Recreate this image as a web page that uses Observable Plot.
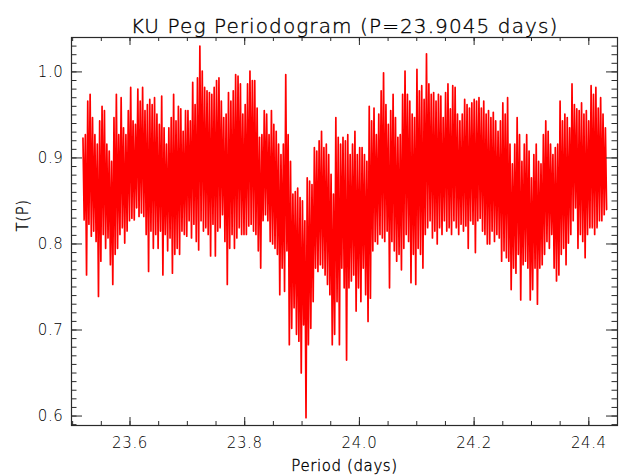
<!DOCTYPE html>
<html><head><meta charset="utf-8">
<script src="https://cdn.jsdelivr.net/npm/d3@7"></script>
<script src="https://cdn.jsdelivr.net/npm/@observablehq/plot@0.6"></script>
<style>
html,body{margin:0;padding:0;background:#fff;}
#chart svg{display:block;}
#chart text{letter-spacing:0.6px;}
#chart .ttl text{letter-spacing:1.1px;}
</style></head><body><div id="chart"></div>
<script>
const titleText = "KU Peg Periodogram (P=23.9045 days)";
const xLabel = "Period (days)";
const yLabel = "T(P)";
const periodFirst = 23.518;
const periodLast = 24.431;
const xDomain = [23.498, 24.45];
const yDomain = [0.589, 1.040];
const xTicks = [23.6, 23.8, 24.0, 24.2, 24.4];
const yTicks = [0.6, 0.7, 0.8, 0.9, 1.0];

// T(P), alternating upper / lower excursions
const tA = [0.923,0.828, 0.927,0.764, 0.966,0.823, 0.974,0.809, 0.947,0.815, 0.927,0.803, 0.916,0.739, 0.943,0.780, 0.960,0.811, 0.955,0.795, 0.916,0.807, 0.908,0.776, 0.896,0.753, 0.947,0.788, 0.974,0.795, 0.927,0.811, 0.970,0.819, 0.935,0.801, 0.927,0.815, 0.955,0.827, 0.982,0.830, 0.943,0.828, 0.939,0.842, 0.980,0.832, 0.966,0.836, 0.982,0.832, 0.955,0.811, 0.962,0.768, 0.968,0.815, 0.962,0.795, 0.970,0.811, 0.951,0.795, 0.939,0.815, 0.972,0.764, 0.935,0.811, 0.916,0.792, 0.935,0.807, 0.947,0.766, 0.974,0.788, 0.943,0.795];
const tB = [0.960,0.788, 0.957,0.815, 0.931,0.811, 0.955,0.809, 0.955,0.827, 0.943,0.807, 0.988,0.823, 0.962,0.803, 0.993,0.793, 1.030,0.827, 1.001,0.815, 0.982,0.819, 0.978,0.811, 0.976,0.786, 0.974,0.823, 0.982,0.786, 0.990,0.815, 0.993,0.819, 0.966,0.834, 0.947,0.803, 0.951,0.753, 0.976,0.795, 0.966,0.811, 0.978,0.795, 0.997,0.807, 0.995,0.819, 0.986,0.811, 0.951,0.811, 0.962,0.811, 0.986,0.821, 1.001,0.823, 0.990,0.815, 0.990,0.811, 0.958,0.792, 0.924,0.772, 0.927,0.827, 0.955,0.834, 0.951,0.827, 0.927,0.803, 0.955,0.800, 0.939,0.795, 0.931,0.788, 0.916,0.741, 0.904,0.772, 0.916,0.745, 0.997,0.792];
const tC = [0.927,0.683, 0.896,0.702, 0.858,0.726, 0.861,0.695, 0.865,0.687, 0.854,0.650, 0.850,0.706, 0.827,0.598, 0.877,0.683, 0.873,0.702, 0.869,0.733, 0.912,0.772, 0.908,0.768, 0.920,0.776, 0.931,0.772, 0.912,0.764, 0.916,0.753, 0.904,0.741, 0.881,0.683, 0.858,0.695, 0.947,0.733, 0.924,0.683, 0.916,0.772, 0.924,0.749, 0.920,0.665, 0.927,0.749, 0.904,0.757, 0.916,0.764, 0.931,0.722, 0.904,0.749, 0.912,0.733, 0.912,0.772, 0.904,0.741, 0.896,0.710, 0.960,0.737, 0.943,0.792, 0.958,0.803, 0.927,0.800, 0.951,0.811, 0.978,0.807, 0.999,0.803, 0.962,0.815, 0.939,0.749, 0.955,0.803, 0.974,0.792, 0.947,0.780];
const tD = [0.924,0.788, 0.927,0.770, 0.974,0.795, 1.001,0.811, 0.974,0.803, 0.966,0.755, 0.951,0.788, 0.947,0.753, 1.003,0.795, 0.978,0.788, 0.984,0.772, 0.968,0.811, 1.021,0.819, 0.986,0.827, 0.974,0.807, 0.976,0.815, 0.966,0.800, 0.974,0.819, 0.972,0.811, 0.947,0.827, 0.976,0.815, 0.986,0.819, 0.957,0.811, 0.984,0.827, 0.982,0.819, 0.951,0.811, 0.943,0.823, 0.951,0.815, 0.968,0.821, 0.962,0.795, 0.958,0.827, 0.964,0.823, 0.968,0.790, 0.966,0.827, 0.970,0.830, 0.958,0.815, 0.966,0.811, 0.951,0.800, 0.955,0.800, 0.947,0.815, 0.953,0.803, 0.943,0.811, 0.931,0.807, 0.943,0.780, 0.964,0.792, 0.951,0.784];
const tE = [0.970,0.780, 0.916,0.747, 0.893,0.772, 0.916,0.766, 0.947,0.788, 0.927,0.735, 0.896,0.776, 0.916,0.780, 0.927,0.772, 0.908,0.735, 0.877,0.747, 0.904,0.772, 0.916,0.730, 0.896,0.772, 0.893,0.776, 0.927,0.788, 0.943,0.803, 0.931,0.795, 0.916,0.811, 0.904,0.772, 0.912,0.757, 0.916,0.764, 0.966,0.788, 0.943,0.795, 0.951,0.776, 0.947,0.801, 0.935,0.811, 0.986,0.827, 0.962,0.842, 0.957,0.795, 0.955,0.811, 0.964,0.803, 0.951,0.784, 0.955,0.811, 0.943,0.819, 0.984,0.819, 0.974,0.811, 0.982,0.819, 0.958,0.827, 0.970,0.827, 0.951,0.834, 0.935,0.840];

const T = [...tA, ...tB, ...tC, ...tD, ...tE];
const n = T.length;
const data = T.map((t, i) => ({p: periodFirst + i * (periodLast - periodFirst) / (n - 1), t}));

const xMinor = d3.range(23.50, 24.451, 0.05).map(v => +v.toFixed(2));
const yMinor = d3.range(0.59, 1.0401, 0.01).map(v => +v.toFixed(2));

const W = 619, H = 476;
const mL = 71, mR = 2, mT = 37, mB = 51;
const pw = W - mL - mR, ph = H - mT - mB;
const ink = "#2a2a2a";
const txt = "#000";
const font = "DejaVu Sans";
const textStyle = {fontWeight: 300, fill: txt, stroke: txt, strokeWidth: 0.35};

const chart = Plot.plot({
  width: W, height: H,
  marginLeft: mL, marginRight: mR, marginTop: mT, marginBottom: mB,
  style: {fontFamily: font, color: ink, background: "#fff"},
  x: {domain: xDomain},
  y: {domain: yDomain},
  marks: [
    Plot.line(data, {x: "p", y: "t", stroke: "#ff0000", strokeWidth: 1.7, clip: true}),
    // inward ticks on all four sides
    Plot.ruleX(xTicks, {insetTop: ph - 8, stroke: ink}),
    Plot.ruleX(xTicks, {insetBottom: ph - 8, stroke: ink}),
    Plot.ruleX(xMinor, {insetTop: ph - 4, stroke: ink}),
    Plot.ruleX(xMinor, {insetBottom: ph - 4, stroke: ink}),
    Plot.ruleY(yTicks, {insetRight: pw - 11, stroke: ink}),
    Plot.ruleY(yTicks, {insetLeft: pw - 11, stroke: ink}),
    Plot.ruleY(yMinor, {insetRight: pw - 5.5, stroke: ink}),
    Plot.ruleY(yMinor, {insetLeft: pw - 5.5, stroke: ink}),
    Plot.frame({stroke: ink, strokeWidth: 1.2}),
    Plot.axisX(xTicks, {tickSize: 0, tickPadding: 12, tickFormat: d3.format(".1f"), fontSize: 15, label: null, ...textStyle}),
    Plot.axisY(yTicks, {tickSize: 0, tickPadding: 8, tickFormat: d3.format(".1f"), fontSize: 15, label: null, ...textStyle}),
    Plot.text([xLabel], {frameAnchor: "bottom", dy: 45, fontSize: 15, ...textStyle}),
    Plot.text([yLabel], {frameAnchor: "left", dx: -48, rotate: -90, fontSize: 15, ...textStyle}),
    Plot.text([titleText], {frameAnchor: "top", dy: -19, fontSize: 20, className: "ttl", ...textStyle})
  ]
});
document.getElementById("chart").appendChild(chart);
</script></body></html>
